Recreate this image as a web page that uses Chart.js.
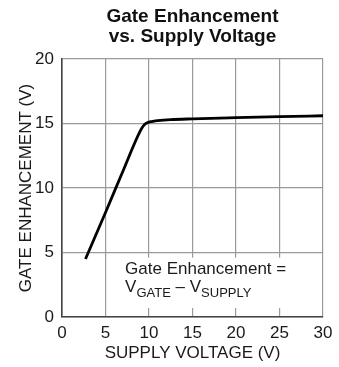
<!DOCTYPE html>
<html>
<head>
<meta charset="utf-8">
<script src="https://cdn.jsdelivr.net/npm/chart.js@4"></script>
<style>
  html, body { margin: 0; padding: 0; background: #fff; }
  #wrap { width: 339px; height: 367px; position: relative; }
</style>
</head>
<body>
<div id="wrap"><canvas id="c" width="339" height="367"></canvas></div>
<script>
// Supply voltage (V) and resulting gate enhancement (V)
const supplyVoltage = [2.7, 5.0, 7.0, 9.0, 9.4, 9.8, 10.3, 11.0, 12.5, 15.0, 20.0, 25.0, 30.0];
const gateEnhancement = [4.5, 8.1, 11.3, 14.43, 14.85, 15.05, 15.15, 15.22, 15.3, 15.36, 15.45, 15.53, 15.6];
const xTicks = [0, 5, 10, 15, 20, 25, 30];
const yTicks = [0, 5, 10, 15, 20];
const titleLines = ['Gate Enhancement', 'vs. Supply Voltage'];
const noteLine1 = 'Gate Enhancement =';
const noteLine2 = [['V', false], ['GATE', true], [' \u2013 ', false], ['V', false], ['SUPPLY', true]];

const FONT = '"Liberation Sans", Arial, Helvetica, sans-serif';
const TEXT = '#1a1a1a';

const points = supplyVoltage.map((x, i) => ({ x, y: gateEnhancement[i] }));

// Title centred over the plot area, plus the formula note in a white box
const extras = {
  id: 'extras',
  beforeDatasetsDraw(chart) {
    const { ctx, scales } = chart;
    const xs = scales.x, ys = scales.y;
    ctx.save();
    // white box behind the note
    const bx0 = xs.getPixelForValue(6.0);
    const bx1 = xs.getPixelForValue(29.75);
    const by0 = ys.getPixelForValue(4.6);
    const by1 = ys.getPixelForValue(0.7);
    ctx.fillStyle = '#fff';
    ctx.fillRect(bx0, by0, bx1 - bx0, by1 - by0);

    ctx.fillStyle = TEXT;
    ctx.textBaseline = 'alphabetic';
    ctx.textAlign = 'left';
    const tx = xs.getPixelForValue(7.25);
    ctx.font = '17px ' + FONT;
    ctx.fillText(noteLine1, tx, ys.getPixelForValue(3.3));
    let x = tx;
    const base2 = ys.getPixelForValue(1.95);
    for (const [s, sub] of noteLine2) {
      ctx.font = (sub ? '13px ' : '17px ') + FONT;
      ctx.fillText(s, x, base2 + (sub ? 5 : 0));
      x += ctx.measureText(s).width;
    }
    ctx.restore();
  },
  afterDraw(chart) {
    const { ctx, chartArea } = chart;
    ctx.save();
    ctx.fillStyle = '#111';
    ctx.font = 'bold 19px ' + FONT;
    ctx.textAlign = 'center';
    ctx.textBaseline = 'alphabetic';
    const cx = (chartArea.left + chartArea.right) / 2;
    ctx.fillText(titleLines[0], cx, 22);
    ctx.fillText(titleLines[1], cx, 42);
    ctx.restore();
  }
};

new Chart(document.getElementById('c'), {
  type: 'line',
  data: {
    datasets: [{
      data: points,
      borderColor: '#000',
      borderWidth: 2.8,
      pointRadius: 0,
      cubicInterpolationMode: 'monotone',
      fill: false
    }]
  },
  options: {
    responsive: false,
    animation: false,
    devicePixelRatio: 1,
    layout: { padding: { top: 59, right: 16, left: 0, bottom: 0 } },
    plugins: { legend: { display: false }, tooltip: { enabled: false }, title: { display: false } },
    scales: {
      x: {
        type: 'linear',
        min: 0, max: 30,
        afterBuildTicks: s => { s.ticks = xTicks.map(v => ({ value: v })); },
        grid: { color: '#9a9a9a', lineWidth: 1.2, drawTicks: false },
        border: { color: '#444', width: 1.6 },
        ticks: { color: TEXT, font: { family: FONT, size: 17 }, padding: 6, maxRotation: 0 },
        title: { display: true, text: 'SUPPLY VOLTAGE (V)', color: TEXT, font: { family: FONT, size: 17 }, padding: { top: 0, bottom: 3 } },
        afterFit: s => { s.height = 50; }
      },
      y: {
        type: 'linear',
        min: 0, max: 20,
        afterBuildTicks: s => { s.ticks = yTicks.map(v => ({ value: v })); },
        grid: { color: '#9a9a9a', lineWidth: 1.2, drawTicks: false },
        border: { color: '#444', width: 1.6 },
        ticks: { color: TEXT, font: { family: FONT, size: 17 }, padding: 8 },
        title: { display: true, text: 'GATE ENHANCEMENT (V)', color: TEXT, font: { family: FONT, size: 17 }, padding: { top: 16, bottom: 0 } },
        afterFit: s => { s.width = 62; }
      }
    }
  },
  plugins: [extras]
});
</script>
</body>
</html>
